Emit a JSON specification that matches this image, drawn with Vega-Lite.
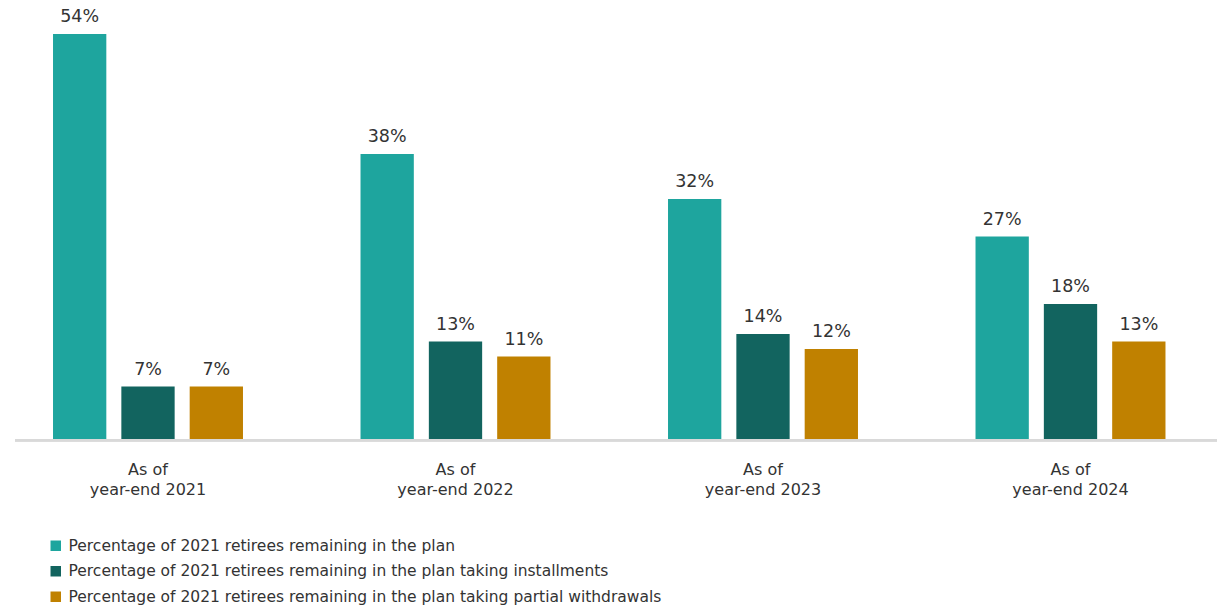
{
  "$schema": "https://vega.github.io/schema/vega-lite/v6.json",
  "autosize": "none",
  "width": 1202,
  "height": 435,
  "padding": {"left": 15, "top": 4, "right": 0, "bottom": 167},
  "background": "white",
  "config": {"view": {"stroke": null}, "font": "DejaVu Sans", "text": {"font": "DejaVu Sans"}},
  "data": {"values": [
    {"year": "As of year-end 2021", "series": "Percentage of 2021 retirees remaining in the plan", "value": 54},
    {"year": "As of year-end 2021", "series": "Percentage of 2021 retirees remaining in the plan taking installments", "value": 7},
    {"year": "As of year-end 2021", "series": "Percentage of 2021 retirees remaining in the plan taking partial withdrawals", "value": 7},
    {"year": "As of year-end 2022", "series": "Percentage of 2021 retirees remaining in the plan", "value": 38},
    {"year": "As of year-end 2022", "series": "Percentage of 2021 retirees remaining in the plan taking installments", "value": 13},
    {"year": "As of year-end 2022", "series": "Percentage of 2021 retirees remaining in the plan taking partial withdrawals", "value": 11},
    {"year": "As of year-end 2023", "series": "Percentage of 2021 retirees remaining in the plan", "value": 32},
    {"year": "As of year-end 2023", "series": "Percentage of 2021 retirees remaining in the plan taking installments", "value": 14},
    {"year": "As of year-end 2023", "series": "Percentage of 2021 retirees remaining in the plan taking partial withdrawals", "value": 12},
    {"year": "As of year-end 2024", "series": "Percentage of 2021 retirees remaining in the plan", "value": 27},
    {"year": "As of year-end 2024", "series": "Percentage of 2021 retirees remaining in the plan taking installments", "value": 18},
    {"year": "As of year-end 2024", "series": "Percentage of 2021 retirees remaining in the plan taking partial withdrawals", "value": 13}
  ]},
  "encoding": {
    "x": {
      "field": "year", "type": "nominal", "sort": null,
      "scale": {"range": [-20.75, 1209.25], "paddingInner": 0, "paddingOuter": 0},
      "axis": {
        "title": null, "domain": false, "ticks": false, "labelAngle": 0,
        "labelExpr": "['As of', slice(datum.label, 6)]",
        "labelFontSize": 16, "labelColor": "#333333", "labelLineHeight": 20,
        "labelPadding": 22, "labelFont": "DejaVu Sans"
      }
    },
    "xOffset": {
      "field": "series", "type": "nominal", "sort": null,
      "scale": {"paddingInner": 0.22, "paddingOuter": 0.86}
    },
    "y": {
      "field": "value", "type": "quantitative",
      "scale": {"domain": [0, 58], "nice": false},
      "axis": null
    },
    "color": {
      "field": "series", "type": "nominal", "sort": null,
      "scale": {"range": ["#1ea59e", "#12645f", "#c08100"]},
      "legend": {
        "title": null, "orient": "none", "legendX": 33, "legendY": 534,
        "direction": "vertical", "symbolType": "square", "symbolSize": 110,
        "symbolStrokeWidth": 0, "labelFontSize": 15.5, "labelColor": "#333333",
        "labelFont": "DejaVu Sans", "rowPadding": 8.5, "labelOffset": 5, "labelLimit": 800, "padding": 0
      }
    }
  },
  "layer": [
    {"mark": {"type": "bar"}},
    {
      "transform": [{"calculate": "datum.value + '%'", "as": "lbl"}],
      "mark": {"type": "text", "baseline": "bottom", "dy": -8, "fontSize": 17.5, "color": "#333333", "font": "DejaVu Sans"},
      "encoding": {"text": {"field": "lbl", "type": "nominal"}, "color": {"value": "#333333"}}
    },
    {
      "mark": {"type": "rule", "color": "#d9d9d9", "strokeWidth": 2},
      "encoding": {"x": null, "xOffset": null, "color": null, "y": {"datum": -0.15, "type": "quantitative"}}
    }
  ]
}
